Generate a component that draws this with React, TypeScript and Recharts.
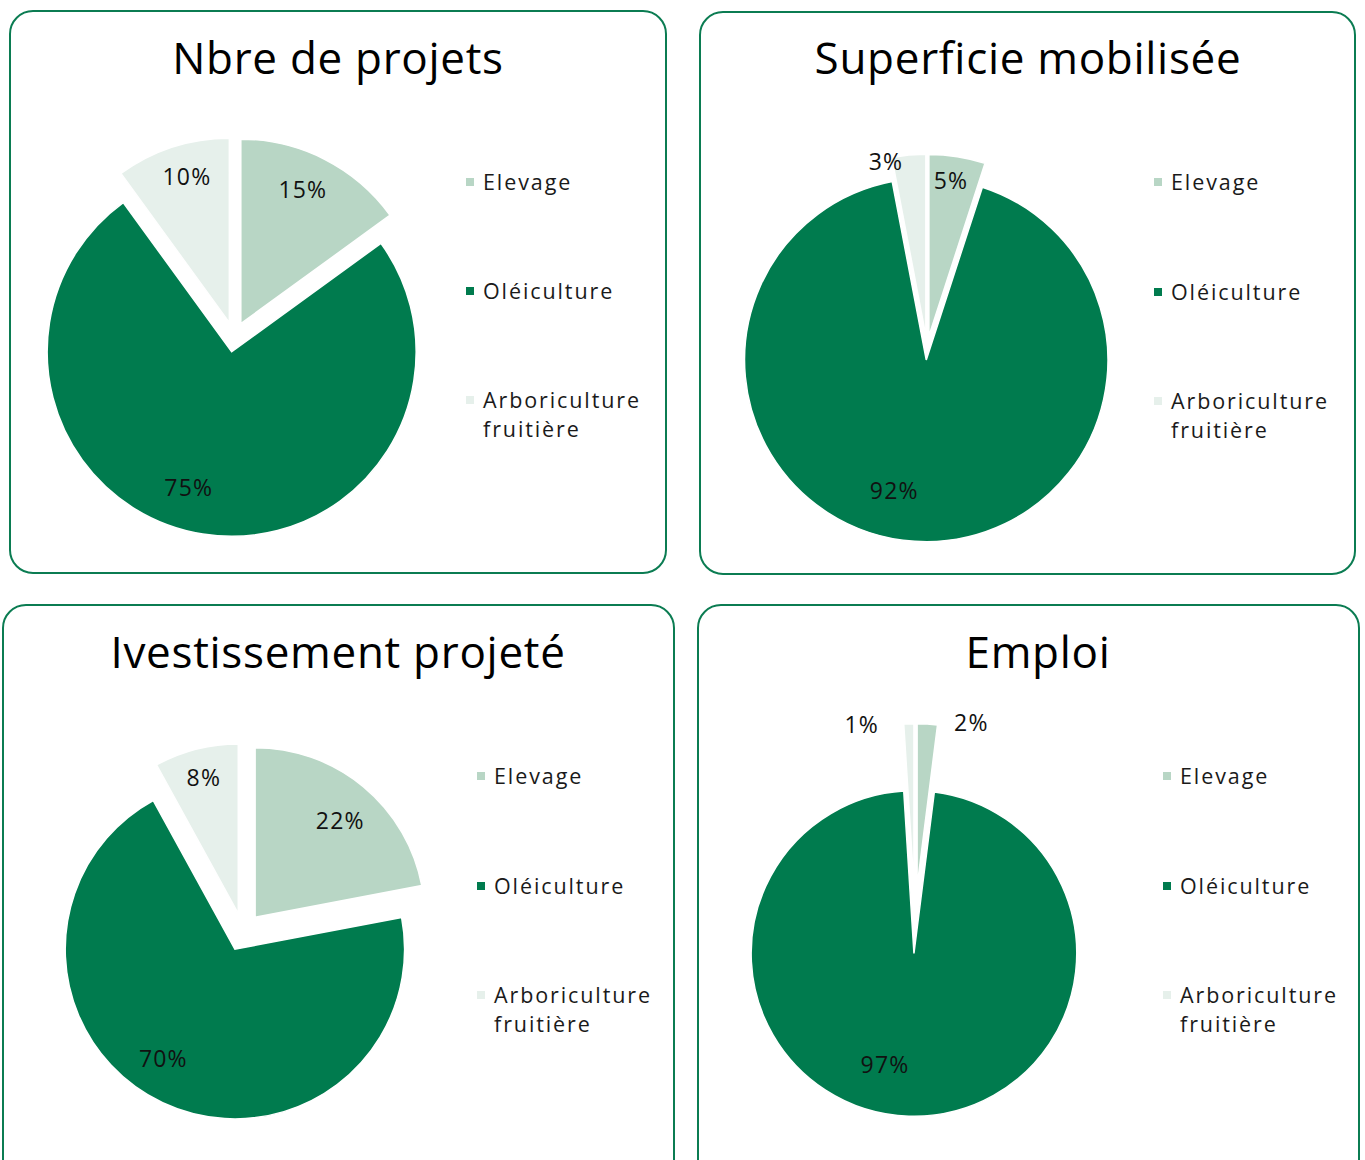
import React from 'react';
import { PieChart, Pie, Cell, Sector } from 'recharts';

const categories = ['Elevage', 'Oléiculture', 'Arboriculture fruitière'];

const titles = ['Nbre de projets', 'Superficie mobilisée', 'Ivestissement projeté', 'Emploi'];

// values are the shares shown on the slices, in %
const nbreProjets = [15, 75, 10];
const superficie = [5, 92, 3];
const investissement = [22, 70, 8];
const emploi = [2, 97, 1];

const seriesList = [nbreProjets, superficie, investissement, emploi];

const COLORS = ['#B8D6C5', '#007B4E', '#E6F0EB'];
const BORDER = '#0B7C52';
const FONT = '"Open Sans", "Noto Sans", sans-serif';
const RAD = Math.PI / 180;

// layout of the four boxes (page pixels)
const panels = [
    { left: 9, top: 10, width: 658, height: 564, titleX: 338, titleY: 58, cx: 233.8, cy: 336.7, r: 184.5, explode: 15, legX: 466, legY: [182, 291, 400] },
    { left: 699, top: 11, width: 657, height: 564, titleX: 1028, titleY: 58, cx: 926.8, cy: 348, r: 181.7, explode: 12, legX: 1154, legY: [182, 292, 401] },
    { left: 2, top: 604, width: 673, height: 580, titleX: 338, titleY: 652, cx: 242.8, cy: 932.4, r: 169.7, explode: 19, legX: 477, legY: [776, 886, 995] },
    { left: 697, top: 604, width: 663, height: 580, titleX: 1038, titleY: 652, cx: 914.8, cy: 919.7, r: 162.8, explode: 33.5, legX: 1163, legY: [776, 886, 995] },
];

// label placement per slice: [clockwise angle shift in deg, fraction of radius]
const labelTweaks = [
    [[-2.4, 0.8], [8.8, 0.77], [1.7, 0.83]],
    [[-1.2, 0.87], [10.4, 0.74], [-7.6, 0.99]],
    [[1.4, 0.76], [8.3, 0.77], [0, 0.83]],
    [[14.4, 1.066], [13.2, 0.7], [-16.2, 1.05]],
];

const BOX = 480;

function ExplodedPie({ idx }: { idx: number }) {
    const p = panels[idx];
    const values = seriesList[idx];
    const data = categories.map((name, i) => ({ name, value: values[i] }));

    const renderSector = (props: any) => {
        const { cx, cy, midAngle } = props;
        const dx = p.explode * Math.cos(-midAngle * RAD);
        const dy = p.explode * Math.sin(-midAngle * RAD);
        return <Sector {...props} cx={cx + dx} cy={cy + dy} stroke="#fff" strokeWidth={1.5} />;
    };

    const renderLabel = (props: any) => {
        const { cx, cy, midAngle, outerRadius, index, value } = props;
        const ex = cx + p.explode * Math.cos(-midAngle * RAD);
        const ey = cy + p.explode * Math.sin(-midAngle * RAD);
        const [shift, frac] = labelTweaks[idx][index];
        const a = midAngle - shift;
        const x = ex + frac * outerRadius * Math.cos(-a * RAD);
        const y = ey + frac * outerRadius * Math.sin(-a * RAD);
        return (
            <text
                x={x + 0.6}
                y={y}
                textAnchor="middle"
                dominantBaseline="central"
                fill="#111"
                fontSize={23}
                letterSpacing={1.2}
                fontFamily={FONT}
            >
                {`${value}%`}
            </text>
        );
    };

    return (
        <div style={{ position: 'absolute', left: p.cx - BOX / 2, top: p.cy - BOX / 2 }}>
            <PieChart width={BOX} height={BOX} margin={{ top: 0, right: 0, bottom: 0, left: 0 }}>
                <Pie
                    data={data}
                    dataKey="value"
                    cx={BOX / 2}
                    cy={BOX / 2}
                    outerRadius={p.r}
                    startAngle={90}
                    endAngle={-270}
                    stroke="#fff"
                    strokeWidth={1.5}
                    shape={renderSector}
                    activeShape={renderSector}
                    inactiveShape={renderSector}
                    label={renderLabel}
                    labelLine={false}
                    isAnimationActive={false}
                >
                    {data.map((entry, i) => (
                        <Cell key={`cell-${i}`} fill={COLORS[i]} />
                    ))}
                </Pie>
            </PieChart>
        </div>
    );
}

function Panel({ idx }: { idx: number }) {
    const p = panels[idx];
    return (
        <>
            <div
                style={{
                    position: 'absolute',
                    left: p.left,
                    top: p.top,
                    width: p.width,
                    height: p.height,
                    border: `2px solid ${BORDER}`,
                    borderRadius: 24,
                    boxSizing: 'border-box',
                }}
            />
            <div
                style={{
                    position: 'absolute',
                    left: p.titleX - 300,
                    width: 600,
                    top: p.titleY - 23,
                    textAlign: 'center',
                    fontSize: 44,
                    lineHeight: '44px',
                    letterSpacing: 0.7,
                    fontFamily: FONT,
                    color: '#000',
                    whiteSpace: 'nowrap',
                }}
            >
                {titles[idx]}
            </div>
            <ExplodedPie idx={idx} />
            {categories.map((name, i) => (
                <React.Fragment key={name}>
                    <div
                        style={{
                            position: 'absolute',
                            left: p.legX,
                            top: p.legY[i] - 4,
                            width: 8,
                            height: 8,
                            background: COLORS[i],
                        }}
                    />
                    <div
                        style={{
                            position: 'absolute',
                            left: p.legX + 17,
                            top: p.legY[i] - 15,
                            width: 185,
                            fontSize: 21.5,
                            lineHeight: '29px',
                            letterSpacing: 1.9,
                            fontFamily: FONT,
                            color: '#1a1a1a',
                        }}
                    >
                        {name}
                    </div>
                </React.Fragment>
            ))}
        </>
    );
}

export default function App() {
    return (
        <div
            style={{
                position: 'absolute',
                left: 0,
                top: 0,
                width: 1365,
                height: 1160,
                overflow: 'hidden',
                background: '#fff',
            }}
        >
            {panels.map((_, i) => (
                <Panel key={i} idx={i} />
            ))}
        </div>
    );
}
